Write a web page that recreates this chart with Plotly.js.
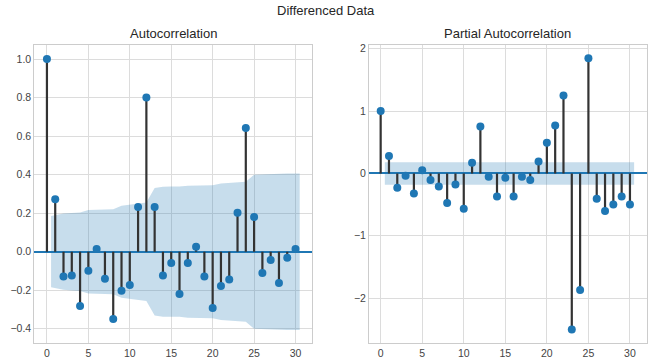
<!DOCTYPE html>
<html>
<head>
<meta charset="utf-8">
<script src="https://cdn.plot.ly/plotly-3.0.1.min.js"></script>
<style>html,body{margin:0;padding:0;background:#fff;}#chart{width:652px;height:363px;}</style>
</head>
<body>
<div id="chart"></div>
<script>
const lags = [0,1,2,3,4,5,6,7,8,9,10,11,12,13,14,15,16,17,18,19,20,21,22,23,24,25,26,27,28,29,30];
const acfValues = [1.0,0.272,-0.128,-0.123,-0.282,-0.099,0.014,-0.140,-0.349,-0.202,-0.173,0.232,0.801,0.232,-0.123,
  -0.059,-0.220,-0.059,0.026,-0.128,-0.292,-0.178,-0.144,0.202,0.642,0.180,-0.111,-0.043,-0.163,-0.031,0.014];
const pacfValues = [1.0,0.278,-0.230,-0.037,-0.320,0.053,-0.107,-0.208,-0.475,-0.176,-0.566,0.171,0.753,-0.053,-0.368,
  -0.069,-0.368,-0.053,-0.107,0.192,0.491,0.769,1.249,-2.504,-1.869,1.847,-0.406,-0.603,-0.497,-0.368,-0.497];
// confidence band half-widths for lags 1..30
const bandLags = [0.5,2,3,4,5,6,7,8,9,10,11,12,13,14,15,16,17,18,19,20,21,22,23,24,25,26,27,28,29,30.5];
const acfBand = [0.185,0.198,0.201,0.204,0.217,0.218,0.218,0.221,0.239,0.245,0.249,0.256,0.331,0.337,0.338,
  0.338,0.343,0.344,0.344,0.345,0.354,0.357,0.359,0.363,0.400,0.402,0.404,0.404,0.406,0.406];
const pacfBand = [0.18,0.18,0.18,0.18,0.18,0.18,0.18,0.18,0.18,0.18,0.18,0.18,0.18,0.18,0.18,
  0.18,0.18,0.18,0.18,0.18,0.18,0.18,0.18,0.18,0.18,0.18,0.18,0.18,0.18,0.18];

const blue = '#1f77b4';
function stemXY(xs, ys){
  const sx=[], sy=[];
  xs.forEach((x,i)=>{ sx.push(x,x,null); sy.push(0,ys[i],null); });
  return {sx, sy};
}
function panel(vals, band, xa, ya){
  const s = stemXY(lags, vals);
  const up = band.slice(), lo = band.map(v=>-v);
  return [
    {x: bandLags, y: lo, xaxis: xa, yaxis: ya, mode:'lines', line:{width:0, color:'rgba(0,0,0,0)'}, hoverinfo:'skip', showlegend:false},
    {x: bandLags, y: up, xaxis: xa, yaxis: ya, mode:'lines', fill:'tonexty', fillcolor:'rgba(31,119,180,0.25)', line:{width:0, color:'rgba(0,0,0,0)'}, hoverinfo:'skip', showlegend:false},
    {x: s.sx, y: s.sy, xaxis: xa, yaxis: ya, mode:'lines', line:{color:'#333333', width:2.2}, showlegend:false, hoverinfo:'skip'},
    {x: lags, y: vals, xaxis: xa, yaxis: ya, mode:'markers', marker:{color:blue, size:8}, showlegend:false}
  ];
}
const data = [].concat(panel(acfValues, acfBand, 'x', 'y'), panel(pacfValues, pacfBand, 'x2', 'y2'));

const axFont = {family:'Liberation Sans, Arial, sans-serif', size:10.5, color:'#444'};
const common = {showgrid:true, gridcolor:'#dcdcdc', gridwidth:1, showline:true, mirror:true, linecolor:'#cccccc', linewidth:1,
  ticks:'', tickfont: axFont, zeroline:false};
const layout = {
  width:652, height:363, margin:{l:0,r:0,t:0,b:0}, paper_bgcolor:'#fff', plot_bgcolor:'#fff',
  font:{family:'Liberation Sans, Arial, sans-serif', color:'#262626'},
  xaxis: Object.assign({}, common, {domain:[0.0526,0.479], range:[-1.525,32.025], tickvals:[0,5,10,15,20,25,30], anchor:'y'}),
  yaxis: Object.assign({}, common, {domain:[0.055,0.876], range:[-0.474,1.073], tickvals:[-0.4,-0.2,0,0.2,0.4,0.6,0.8,1.0], ticktext:['−0.4','−0.2','0.0','0.2','0.4','0.6','0.8','1.0'], anchor:'x',
    zeroline:true, zerolinecolor:blue, zerolinewidth:2}),
  xaxis2: Object.assign({}, common, {domain:[0.566,0.992], range:[-1.4,32.025], tickvals:[0,5,10,15,20,25,30], anchor:'y2'}),
  yaxis2: Object.assign({}, common, {domain:[0.055,0.876], range:[-2.72,2.06], tickvals:[-2,-1,0,1,2], ticktext:['−2','−1','0','1','2'], anchor:'x2',
    zeroline:true, zerolinecolor:blue, zerolinewidth:2}),
  annotations:[
    {text:'Differenced Data', xref:'paper', yref:'paper', x:0.5, y:(363-11)/363, xanchor:'center', yanchor:'middle', showarrow:false, font:{size:13, color:'#262626'}},
    {text:'Autocorrelation', xref:'paper', yref:'paper', x:(0.0526+0.479)/2, y:(363-34)/363, xanchor:'center', yanchor:'middle', showarrow:false, font:{size:13, color:'#262626'}},
    {text:'Partial Autocorrelation', xref:'paper', yref:'paper', x:(0.566+0.992)/2, y:(363-34)/363, xanchor:'center', yanchor:'middle', showarrow:false, font:{size:13, color:'#262626'}}
  ]
};
Plotly.newPlot('chart', data, layout, {staticPlot:true, displayModeBar:false});
</script>
</body>
</html>
